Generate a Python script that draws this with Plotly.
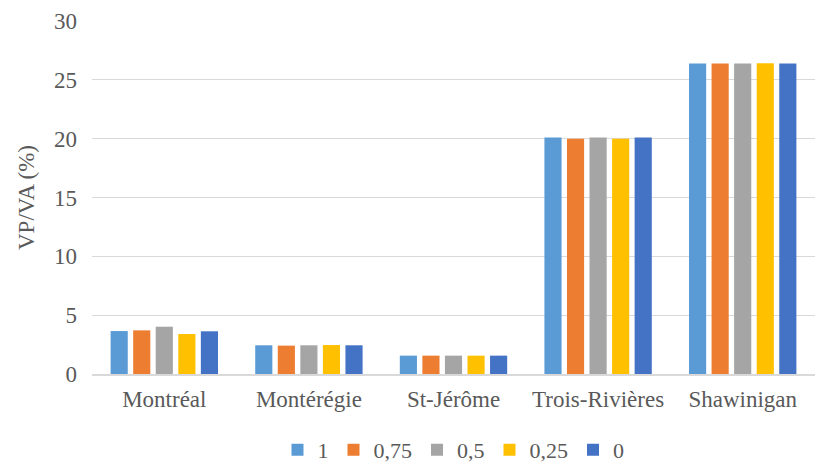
import plotly.graph_objects as go

regions = ["Montréal", "Montérégie", "St-Jérôme", "Trois-Rivières", "Shawinigan"]
series_names = ["1", "0,75", "0,5", "0,25", "0"]
series_colors = ["#5B9BD5", "#ED7D31", "#A5A5A5", "#FFC000", "#4472C4"]

vals_1 = [3.65, 2.44, 1.56, 20.1, 26.38]
vals_075 = [3.71, 2.41, 1.56, 20.0, 26.38]
vals_05 = [4.02, 2.44, 1.56, 20.1, 26.38]
vals_025 = [3.40, 2.46, 1.56, 20.0, 26.40]
vals_0 = [3.63, 2.44, 1.56, 20.1, 26.38]
series_values = [vals_1, vals_075, vals_05, vals_025, vals_0]

y_ticks = [0, 5, 10, 15, 20, 25, 30]

fig = go.Figure()
for name, color, vals in zip(series_names, series_colors, series_values):
    fig.add_trace(go.Bar(x=regions, y=vals, name=name,
                         marker=dict(color=color, line=dict(width=0))))

serif = "Times New Roman"
text_color = "#595959"
fig.update_layout(
    width=827, height=463,
    margin=dict(l=92, r=12, t=21, b=89, autoexpand=False),
    plot_bgcolor="white", paper_bgcolor="white",
    barmode="group", bargap=0.22, bargroupgap=0.24,
    font=dict(family=serif, size=23, color=text_color),
    showlegend=True,
    legend=dict(orientation="h", x=0.5, xanchor="center",
                yref="container", y=0.028, yanchor="middle",
                font=dict(family=serif, size=22, color=text_color),
                itemwidth=30, traceorder="normal", tracegroupgap=0),
    xaxis=dict(showline=True, linecolor="#D9D9D9", linewidth=1.5, ticks="",
               tickfont=dict(family=serif, size=23, color=text_color),
               ticklabelstandoff=4, showgrid=False),
    yaxis=dict(range=[0, 30], tickvals=y_ticks, showgrid=True, gridcolor="#D9D9D9",
               gridwidth=1, zeroline=False, ticks="",
               tickfont=dict(family=serif, size=23, color=text_color),
               ticklabelstandoff=14,
               title=dict(text="VP/VA (%)", font=dict(family=serif, size=23, color=text_color),
                          standoff=12)),
)

fig.write_html("out.html")
